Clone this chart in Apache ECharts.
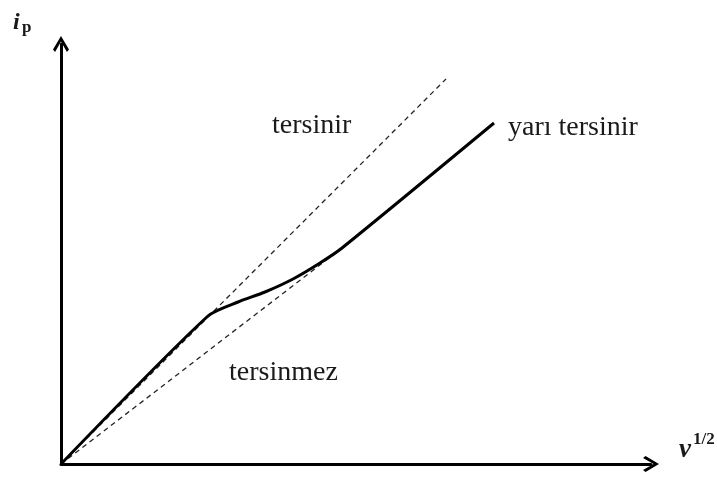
<!DOCTYPE html>
<html>
<head>
<meta charset="utf-8">
<script src="https://cdn.jsdelivr.net/npm/echarts@6/dist/echarts.min.js"></script>
<style>
  html, body { margin: 0; padding: 0; background: #fff; }
  #chart { width: 717px; height: 478px; }
</style>
</head>
<body>
<div id="chart"></div>
<script>
// Peak current vs. square root of scan rate: reversible / quasi-reversible / irreversible
var reversibleLine = [[0, 0], [38.5, 38.5]];          // tersinir (dashed)
var irreversibleLine = [[0, 0], [28.1, 21.6]];        // tersinmez (dashed)
var quasiCurve = [                                    // yarı tersinir (solid)
  [0, 0], [14.7, 14.8], [17.7, 16.2], [20.4, 17.2],
  [23.2, 18.5], [25.9, 20.1], [28.1, 21.6], [43.3, 34.1]
];

var xMax = 59, yMax = 42;
var serif = '"Liberation Serif", "Times New Roman", serif';
var chevron = 'path://M5,0 L10,8.4 L8.7,10 L5,3.4 L1.3,10 L0,8.4 Z';

var axisCommon = {
  type: 'value',
  min: 0,
  axisLine: {
    show: true,
    symbol: ['none', chevron],
    symbolSize: [18, 16],
    lineStyle: { color: '#000', width: 3 }
  },
  axisTick: { show: false },
  axisLabel: { show: false },
  splitLine: { show: false }
};

var chart = echarts.init(document.getElementById('chart'), null, { renderer: 'canvas' });
chart.setOption({
  animation: false,
  backgroundColor: '#fff',
  grid: { left: 61, top: 44, width: 590, height: 420 },
  xAxis: Object.assign({}, axisCommon, { max: xMax }),
  yAxis: Object.assign({}, axisCommon, { max: yMax }),
  series: [
    {
      type: 'line', data: reversibleLine, symbol: 'none',
      lineStyle: { color: '#222', width: 1.3, type: [5, 4] }
    },
    {
      type: 'line', data: irreversibleLine, symbol: 'none',
      lineStyle: { color: '#222', width: 1.3, type: [5, 4] }
    },
    {
      type: 'line', data: quasiCurve, symbol: 'none', smooth: 0.25,
      lineStyle: { color: '#000', width: 3 }
    }
  ],
  graphic: [
    { type: 'text', left: 13, top: 11,
      style: { text: 'i', font: 'italic bold 24px ' + serif, fill: '#1a1a1a' } },
    { type: 'text', left: 22, top: 19,
      style: { text: 'p', font: 'bold 17px ' + serif, fill: '#1a1a1a' } },
    { type: 'text', left: 679, top: 437,
      style: { text: 'ν', font: 'italic bold 27px ' + serif, fill: '#1a1a1a' } },
    { type: 'text', left: 693, top: 431,
      style: { text: '1/2', font: 'bold 17px ' + serif, fill: '#1a1a1a' } },
    { type: 'text', left: 272, top: 112,
      style: { text: 'tersinir', font: '28px ' + serif, fill: '#1a1a1a' } },
    { type: 'text', left: 508, top: 114,
      style: { text: 'yarı tersinir', font: '28px ' + serif, fill: '#1a1a1a' } },
    { type: 'text', left: 229, top: 359,
      style: { text: 'tersinmez', font: '28px ' + serif, fill: '#1a1a1a' } }
  ]
});
</script>
</body>
</html>
